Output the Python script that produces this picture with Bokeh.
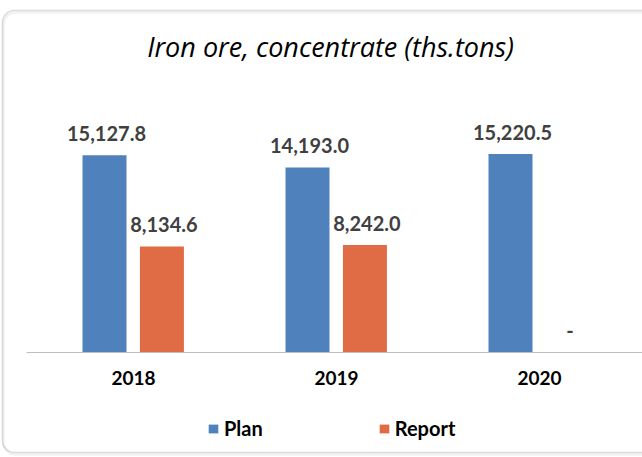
import numpy as np
from bokeh.plotting import figure
from bokeh.models import (ColumnDataSource, Legend, LegendItem, Range1d, PolyAnnotation,
                          FixedTicker, Label)
from bokeh.transform import dodge
from bokeh.core.properties import value
from bokeh.embed import file_html
from bokeh.resources import INLINE

years = ["2018", "2019", "2020"]
plan = [15127.8, 14193.0, 15220.5]
report = [8134.6, 8242.0, 0.0]
plan_labels = ["15,127.8", "14,193.0", "15,220.5"]
report_labels = ["8,134.6", "8,242.0", "-"]
title = "Iron ore, concentrate (ths.tons)"

BLUE = "#4F81BD"
ORANGE = "#E06C45"
FONT = "Lato"

xs = list(range(len(years)))
src = ColumnDataSource(dict(x=xs, years=years, plan=plan, report=report,
                            plan_labels=plan_labels, report_labels=report_labels))

W, H = 642, 457
p = figure(x_range=Range1d(-0.6552, 2.5074), y_range=Range1d(-8054, 26998),
           width=W, height=H, output_backend="svg", toolbar_location=None,
           min_border_left=0, min_border_right=0, min_border_top=0, min_border_bottom=0)

r1 = p.vbar(x=dodge("x", -0.1429), top="plan", width=0.2167,
            source=src, fill_color=BLUE, line_color=None)
r2 = p.vbar(x=dodge("x", 0.140), top="report", width=0.2167,
            source=src, fill_color=ORANGE, line_color=None)

p.text(x=dodge("x", -0.1429), y="plan", text="plan_labels", source=src,
       text_align="center", text_baseline="alphabetic", y_offset=-22, x_offset=2,
       text_font=value(FONT), text_font_style="bold", text_font_size="20px",
       text_color="#404040")
p.text(x=dodge("x", 0.140), y="report", text="report_labels", source=src,
       text_align="center", text_baseline="alphabetic", y_offset=-22, x_offset=2,
       text_font=value(FONT), text_font_style="bold", text_font_size="20px",
       text_color="#404040")

p.yaxis.visible = False
p.xgrid.visible = False
p.ygrid.visible = False
p.outline_line_color = None

ax = p.xaxis[0]
ax.fixed_location = 0
ax.bounds = (-0.527, 2.6)
ax.ticker = FixedTicker(ticks=xs)
ax.major_label_overrides = {i: y for i, y in zip(xs, years)}
ax.axis_line_color = "#BFBFBF"
ax.axis_line_width = 1
ax.major_tick_in = 0
ax.major_tick_out = 0
ax.minor_tick_line_color = None
ax.major_label_text_font = FONT
ax.major_label_text_font_style = "bold"
ax.major_label_text_font_size = "19px"
ax.major_label_text_color = "#000000"
ax.major_label_standoff = 19

p.add_layout(Label(x=330, y=H - 46, x_units="screen", y_units="screen", text=title,
                   text_align="center", text_baseline="alphabetic",
                   text_font="Open Sans", text_font_style="italic",
                   text_font_size="27px", text_color="#000000"))

legend = Legend(items=[LegendItem(label="Plan", renderers=[r1]),
                       LegendItem(label="Report", renderers=[r2])],
                orientation="horizontal", location=(207, 17),
                glyph_width=12, glyph_height=11, label_standoff=5, spacing=115,
                label_text_font=FONT, label_text_font_style="bold",
                label_text_font_size="20px", label_text_color="#000000",
                border_line_color=None, background_fill_alpha=0, padding=0, margin=0)
p.add_layout(legend)


def rounded_outline(left, top, bottom, right, r, n=12):
    t = np.linspace(0, np.pi / 2, n)
    px = [right, left + r]
    py = [top, top]
    cx, cy = left + r, top + r
    px += list(cx - r * np.sin(t)); py += list(cy - r * np.cos(t))
    cx, cy = left + r, bottom - r
    px += list(cx - r * np.cos(t)); py += list(cy + r * np.sin(t))
    px += [left + r, right]
    py += [bottom, bottom]
    return [float(v) for v in px], [float(H - v) for v in py]


sx, sy = rounded_outline(3, 12, 454, W + 40, 12)
p.add_layout(PolyAnnotation(xs=sx, ys=sy, xs_units="screen", ys_units="screen",
                            fill_alpha=0, line_color="#D3D3D3", line_width=2.5,
                            level="underlay", editable=False))
bx, by = rounded_outline(2, 10, 452, W + 40, 12)
p.add_layout(PolyAnnotation(xs=bx, ys=by, xs_units="screen", ys_units="screen",
                            fill_alpha=0, line_color="#8C8C8C", line_width=1.5,
                            level="overlay", editable=False))

open("out.html", "w").write(file_html(p, INLINE))
